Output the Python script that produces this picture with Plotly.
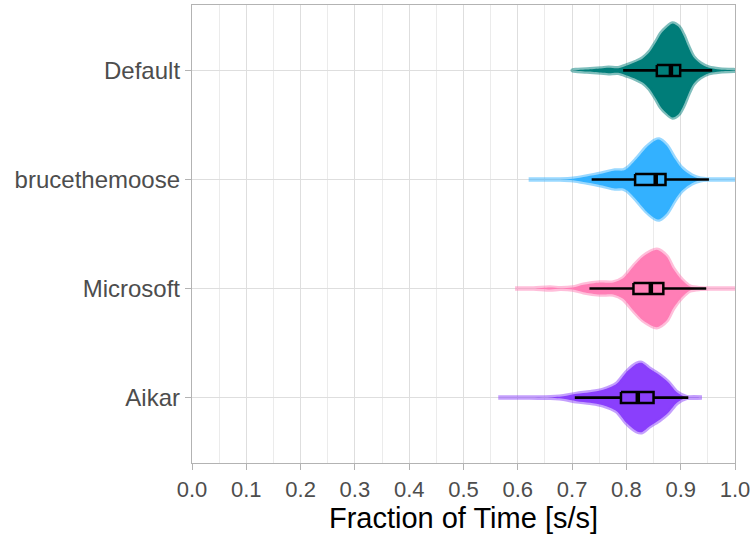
import plotly.graph_objects as go

categories = ["Default", "brucethemoose", "Microsoft", "Aikar"]
colors = ["#007d79", "#33b1ff", "#ff7eb6", "#8a3ffc"]

# violin density profiles (value, half-width density)
default_x = [0.701, 0.727, 0.753, 0.767, 0.785, 0.802, 0.818, 0.830, 0.843, 0.855, 0.864,
             0.874, 0.885, 0.896, 0.905, 0.914, 0.923, 0.936, 0.952, 0.972, 1.000, 1.030]
default_d = [0, 1, 2, 2.7, 2.3, 5.3, 8.7, 12, 18.7, 28.7, 37,
             42.7, 47, 43.7, 35.3, 23.7, 13.7, 7, 2.7, 1, 0.3, 0]

bruce_x = [0.620, 0.678, 0.702, 0.727, 0.753, 0.779, 0.794, 0.802, 0.819, 0.837,
           0.853, 0.860, 0.874, 0.889, 0.902, 0.920, 0.936, 0.952, 1.000, 1.030]
bruce_d = [0, 0, 0.7, 3, 5.7, 9, 9, 11.3, 20.7, 32,
           39, 40, 34, 20.7, 11.3, 4, 0.7, 0, 0, 0]

microsoft_x = [0.595, 0.629, 0.659, 0.678, 0.701, 0.721, 0.751, 0.776, 0.794, 0.813,
               0.831, 0.856, 0.874, 0.886, 0.902, 0.917, 0.936, 0.960, 1.000, 1.030]
microsoft_d = [0, 0, 1, 0.3, 1, 3.7, 6, 6, 10.3, 22,
               32, 38.7, 32, 20, 8.7, 2, 0.3, 0, 0, 0]

aikar_x = [0.564, 0.610, 0.651, 0.684, 0.708, 0.733, 0.757, 0.782, 0.800, 0.819,
           0.828, 0.843, 0.862, 0.877, 0.893, 0.911, 0.939]
aikar_d = [0, 0, 0, 1.3, 3.7, 5.3, 7.7, 13.7, 25.3, 33.7,
           34.7, 28.7, 22, 15.3, 5.3, 0.3, 0]

# box statistics
q1 = [0.856, 0.816, 0.813, 0.790]
median = [0.882, 0.854, 0.845, 0.821]
q3 = [0.899, 0.872, 0.868, 0.850]
lower = [0.794, 0.736, 0.732, 0.705]
upper = [0.958, 0.952, 0.947, 0.914]

violin_x = [default_x, bruce_x, microsoft_x, aikar_x]
violin_d = [default_d, bruce_d, microsoft_d, aikar_d]

DENS_SCALE = 1 / 109.05
BOX_W = 0.1


def rgba(h, a):
    h = h.lstrip("#")
    r, g, b = int(h[0:2], 16), int(h[2:4], 16), int(h[4:6], 16)
    return f"rgba({r},{g},{b},{a})"


fig = go.Figure()

for i, cat in enumerate(categories):
    xs = violin_x[i]
    ds = violin_d[i]
    px = list(xs) + list(xs[::-1])
    py = [i - d * DENS_SCALE for d in ds] + [i + d * DENS_SCALE for d in ds[::-1]]
    fig.add_trace(go.Scatter(
        x=px, y=py, mode="lines", fill="toself",
        fillcolor=colors[i],
        line=dict(color=rgba(colors[i], 0.5), width=4.5, shape="spline", smoothing=0.8),
        hoverinfo="skip", showlegend=False,
    ))

for i, cat in enumerate(categories):
    lo, hi = i - BOX_W / 2, i + BOX_W / 2
    # whiskers
    fig.add_trace(go.Scatter(
        x=[lower[i], q1[i], None, q3[i], upper[i]], y=[i, i, None, i, i],
        mode="lines", line=dict(color="black", width=2.7),
        hoverinfo="skip", showlegend=False,
    ))
    # box
    fig.add_trace(go.Scatter(
        x=[q1[i], q3[i], q3[i], q1[i], q1[i]], y=[lo, lo, hi, hi, lo],
        mode="lines", line=dict(color="black", width=2.5),
        hoverinfo="skip", showlegend=False,
    ))
    # median
    fig.add_trace(go.Scatter(
        x=[median[i], median[i]], y=[lo, hi],
        mode="lines", line=dict(color="black", width=4.5),
        hoverinfo="skip", showlegend=False,
    ))

fig.update_layout(
    width=756, height=535,
    margin=dict(l=192, r=21, t=5, b=72),
    paper_bgcolor="white", plot_bgcolor="white",
    font=dict(family="Liberation Sans, Arial, sans-serif"),
    showlegend=False,
    xaxis=dict(
        range=[0, 1], dtick=0.1, tick0=0, tickformat=".1f",
        showgrid=True, gridcolor="#DEDEDE", gridwidth=1,
        minor=dict(dtick=0.05, showgrid=True, gridcolor="#EBEBEB", gridwidth=1),
        zeroline=False,
        showline=True, mirror=True, linecolor="#B3B3B3", linewidth=1.3,
        ticks="outside", ticklen=6, tickwidth=1.3, tickcolor="#B3B3B3",
        tickfont=dict(size=22, color="#4D4D4D"),
        title=dict(text="Fraction of Time [s/s]", font=dict(size=29, color="black"), standoff=6),
    ),
    yaxis=dict(
        tickmode="array", tickvals=[0, 1, 2, 3], ticktext=categories,
        range=[3.6, -0.6],
        showgrid=True, gridcolor="#DEDEDE", gridwidth=1,
        zeroline=False,
        showline=True, mirror=True, linecolor="#B3B3B3", linewidth=1.3,
        ticks="outside", ticklen=6, tickwidth=1.3, tickcolor="#B3B3B3",
        tickfont=dict(size=24, color="#4D4D4D"),
    ),
)

fig.write_html("out.html")
